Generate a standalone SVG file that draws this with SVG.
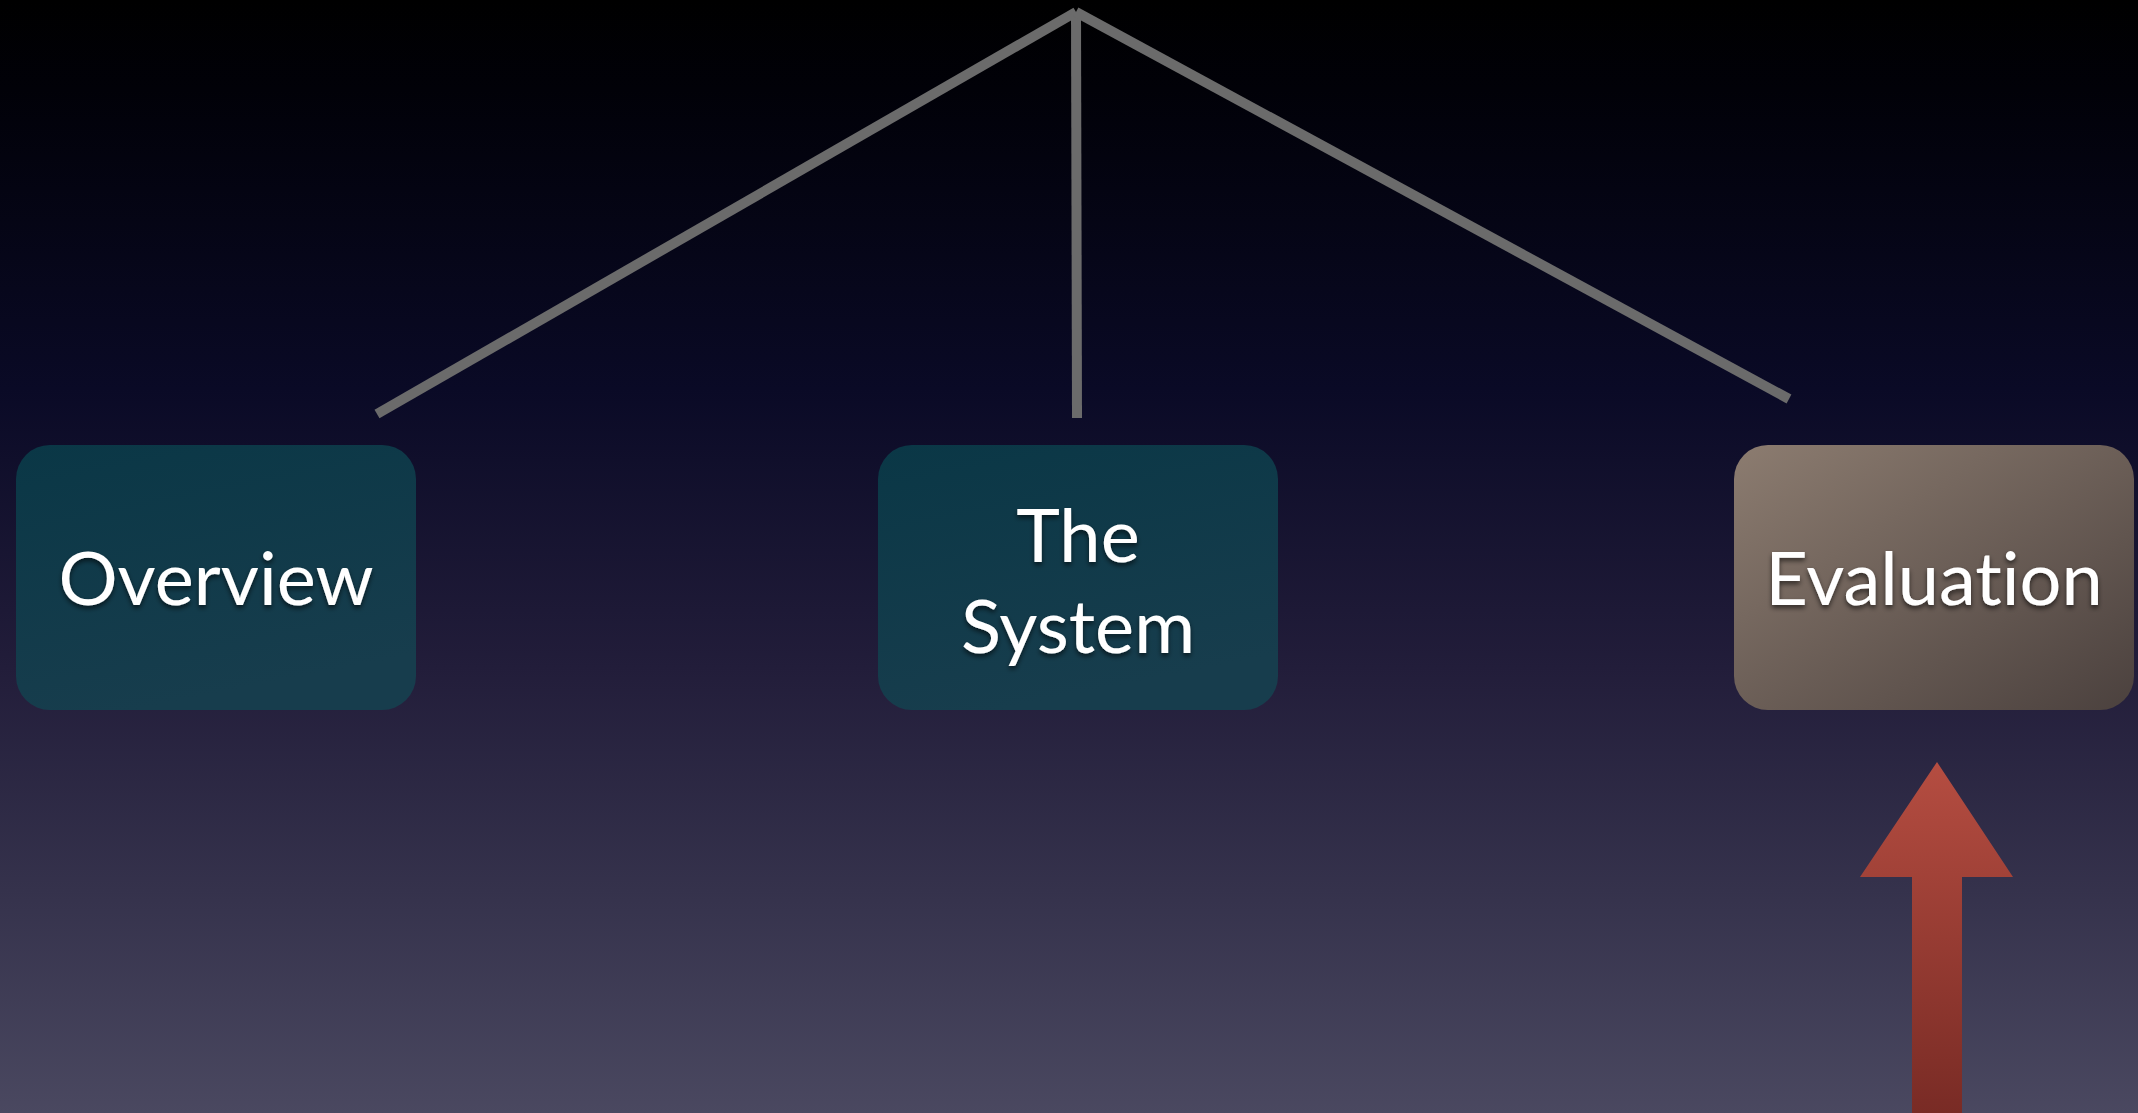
<svg xmlns="http://www.w3.org/2000/svg" width="2138" height="1113" viewBox="0 0 2138 1113">
  <defs>
    <linearGradient id="bg" x1="0" y1="0" x2="0" y2="1">
      <stop offset="0" stop-color="#000000"/>
      <stop offset="0.08" stop-color="#010108"/>
      <stop offset="0.35" stop-color="#0a0a26"/>
      <stop offset="0.6" stop-color="#221d3a"/>
      <stop offset="0.8" stop-color="#35324c"/>
      <stop offset="1" stop-color="#4a4860"/>
    </linearGradient>
    <linearGradient id="teal" x1="0" y1="0" x2="0.3" y2="1">
      <stop offset="0" stop-color="#0a3746"/>
      <stop offset="1" stop-color="#173d4d"/>
    </linearGradient>
    <linearGradient id="taupe" x1="0" y1="0" x2="1" y2="1">
      <stop offset="0" stop-color="#8c7c70"/>
      <stop offset="1" stop-color="#4b413e"/>
    </linearGradient>
    <linearGradient id="red" x1="0" y1="0" x2="0" y2="1">
      <stop offset="0" stop-color="#b54d41"/>
      <stop offset="1" stop-color="#792b25"/>
    </linearGradient>
    <filter id="shadow" x="-10%" y="-20%" width="120%" height="150%">
      <feDropShadow dx="0" dy="3" stdDeviation="2.5" flood-color="#000000" flood-opacity="0.6"/>
    </filter>
    <style>
      .box { stroke: none; }
      .label { font-family: "Lato", "Open Sans", "Liberation Sans", sans-serif; font-size: 74px; fill: #ffffff; text-anchor: middle; font-variant-ligatures: none; filter: url(#shadow); }
      .conn { stroke: #6b6b6b; stroke-width: 10; fill: none; stroke-linecap: butt; }
    </style>
  </defs>

  <rect width="2138" height="1113" fill="url(#bg)"/>

  <!-- connectors from the common root to each section -->
  <g id="connectors">
    <line class="conn" x1="1076" y1="12" x2="377" y2="414"/>
    <line class="conn" x1="1076" y1="12" x2="1077" y2="418"/>
    <line class="conn" x1="1076" y1="12" x2="1789" y2="399"/>
  </g>

  <g id="node-overview">
    <rect class="box" x="16" y="445" width="400" height="265" rx="34" fill="url(#teal)"/>
    <text class="label" x="216" y="605">Overview</text>
  </g>

  <g id="node-system">
    <rect class="box" x="878" y="445" width="400" height="265" rx="34" fill="url(#teal)"/>
    <text class="label" x="1078" y="562">The</text>
    <text class="label" x="1078" y="653">System</text>
  </g>

  <g id="node-evaluation">
    <rect class="box" x="1734" y="445" width="400" height="265" rx="34" fill="url(#taupe)"/>
    <text class="label" x="1934" y="605">Evaluation</text>
  </g>

  <!-- current-section pointer -->
  <g id="pointer">
    <polygon points="1937,762 2013,877 1962,877 1962,1113 1912,1113 1912,877 1860,877" fill="url(#red)"/>
  </g>
</svg>
